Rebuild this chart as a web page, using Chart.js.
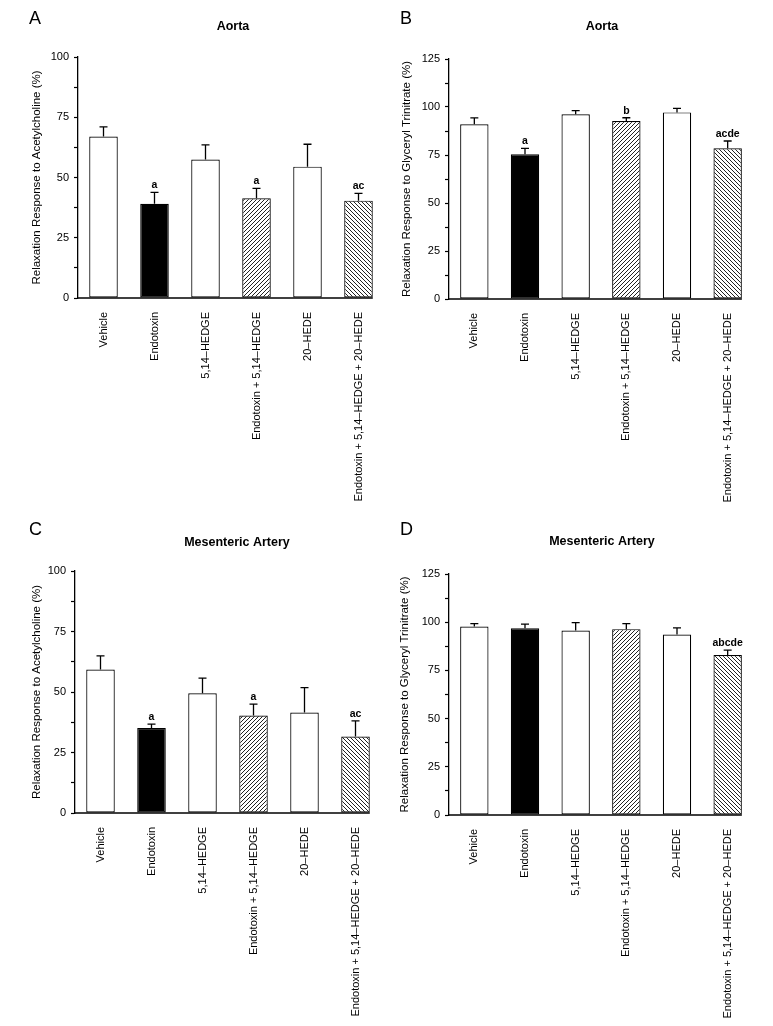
<!DOCTYPE html>
<html>
<head>
<meta charset="utf-8">
<script src="https://cdn.jsdelivr.net/npm/chart.js@4.4.1/dist/chart.umd.min.js"></script>
<style>
  body { margin: 0; background: #fff; }
  canvas { position: absolute; }
</style>
</head>
<body>
<canvas id="chartA" width="390" height="515" style="left:0;top:0"></canvas>
<canvas id="chartB" width="383" height="515" style="left:390px;top:0"></canvas>
<canvas id="chartC" width="390" height="511" style="left:0;top:515px"></canvas>
<canvas id="chartD" width="383" height="511" style="left:390px;top:515px"></canvas>
<script>
// groups, same order in all four panels
const categories = ['Vehicle', 'Endotoxin', '5,14–HEDGE', 'Endotoxin + 5,14–HEDGE', '20–HEDE', 'Endotoxin + 5,14–HEDGE + 20–HEDE']

// A: aorta, acetylcholine
const aortaAch = [67, 39.1, 57.5, 41.4, 54.5, 40.4]
const aortaAchErr = [4, 4.7, 6, 4.1, 9.3, 3]
const aortaAchMarks = ['', 'a', '', 'a', '', 'ac']

// B: aorta, glyceryl trinitrate
const aortaGtn = [91, 75.4, 96.2, 92.7, 97.2, 78.5]
const aortaGtnErr = [3.3, 3.1, 1.9, 1.7, 2.1, 3.8]
const aortaGtnMarks = ['', 'a', '', 'b', '', 'acde']

// C: mesenteric artery, acetylcholine
const mesAch = [59.3, 35.1, 49.5, 40.3, 41.5, 31.6]
const mesAchErr = [5.6, 1.6, 6.2, 4.7, 10.3, 6.5]
const mesAchMarks = ['', 'a', '', 'a', '', 'ac']

// D: mesenteric artery, glyceryl trinitrate
const mesGtn = [97.8, 96.9, 95.7, 96.4, 93.6, 83]
const mesGtnErr = [1.5, 2.1, 4.1, 2.9, 3.5, 2.5]
const mesGtnMarks = ['', '', '', '', '', 'abcde']

const ticksAch = [0, 25, 50, 75, 100]
const ticksGtn = [0, 25, 50, 75, 100, 125]

const FONT = '"Liberation Sans", Arial, Helvetica, sans-serif'
Chart.defaults.font.family = FONT
Chart.defaults.color = '#000'

function hatch(dir) {
  const s = 4
  const c = document.createElement('canvas')
  c.width = s
  c.height = s
  const g = c.getContext('2d')
  g.fillStyle = '#fff'
  g.fillRect(0, 0, s, s)
  g.strokeStyle = '#222'
  g.lineWidth = 1
  g.beginPath()
  if (dir === 'up') {
    g.moveTo(-1, s + 1); g.lineTo(s + 1, -1)
    g.moveTo(-1, 1); g.lineTo(1, -1)
    g.moveTo(s - 1, s + 1); g.lineTo(s + 1, s - 1)
  } else {
    g.moveTo(-1, -1); g.lineTo(s + 1, s + 1)
    g.moveTo(s - 1, -1); g.lineTo(s + 1, 1)
    g.moveTo(-1, s - 1); g.lineTo(1, s + 1)
  }
  g.stroke()
  return g.createPattern(c, 'repeat')
}

const fills = ['#fff', '#000', '#fff', hatch('up'), '#fff', hatch('down')]

const extras = {
  id: 'extras',
  afterDatasetsDraw(chart, args, opts) {
    const ctx = chart.ctx
    const y = chart.scales.y
    const bars = chart.getDatasetMeta(0).data
    const values = chart.data.datasets[0].data
    ctx.save()
    ctx.strokeStyle = '#000'
    ctx.lineWidth = 1.3
    ctx.fillStyle = '#000'
    ctx.font = 'bold 10.5px ' + FONT
    ctx.textAlign = 'center'
    ctx.textBaseline = 'alphabetic'
    for (let i = 0; i < bars.length; i++) {
      const x = bars[i].x
      const top = y.getPixelForValue(values[i] + opts.errors[i])
      ctx.beginPath()
      ctx.moveTo(x, y.getPixelForValue(values[i]))
      ctx.lineTo(x, top)
      ctx.moveTo(x - 4, top)
      ctx.lineTo(x + 4, top)
      ctx.stroke()
      if (opts.marks[i]) ctx.fillText(opts.marks[i], x, top - 4)
    }
    // baseline stops at the last bar
    const last = bars[bars.length - 1]
    const y0 = y.getPixelForValue(0)
    ctx.beginPath()
    ctx.moveTo(chart.chartArea.left, y0)
    ctx.lineTo(last.x + last.width / 2, y0)
    ctx.stroke()

    ctx.textBaseline = 'middle'
    ctx.font = '18px ' + FONT
    ctx.textAlign = 'left'
    ctx.fillText(opts.letter, opts.letterX, opts.letterY)
    ctx.font = 'bold 12.5px ' + FONT
    ctx.textAlign = 'center'
    ctx.fillText(opts.title, opts.titleX, opts.titleY)
    ctx.restore()
  }
}

function makeChart(id, values, errors, marks, yTicks, yTitle, letter, title, L) {
  const yMax = yTicks[yTicks.length - 1]
  return new Chart(document.getElementById(id), {
    type: 'bar',
    data: {
      labels: categories,
      datasets: [{
        data: values,
        backgroundColor: fills,
        borderColor: '#000',
        borderWidth: 1.2,
        borderSkipped: false,
        barPercentage: 0.56,
        categoryPercentage: 1
      }]
    },
    options: {
      responsive: false,
      animation: false,
      events: [],
      layout: { padding: { left: 0, right: L.right, top: L.top, bottom: 0 } },
      plugins: {
        legend: { display: false },
        tooltip: { enabled: false },
        extras: {
          errors: errors, marks: marks, letter: letter, title: title,
          letterX: L.letterX, letterY: L.letterY, titleX: L.titleX, titleY: L.titleY
        }
      },
      scales: {
        x: {
          grid: { display: false },
          border: { display: false },
          ticks: { minRotation: 90, maxRotation: 90, autoSkip: false, padding: 6, font: { size: 11 } },
          afterFit(scale) { scale.height = scale.chart.height - L.bottom }
        },
        y: {
          min: 0,
          max: yMax,
          grid: { drawOnChartArea: false, tickLength: 4, tickColor: '#000', tickWidth: 1.2 },
          border: { color: '#000', width: 1.3 },
          ticks: {
            stepSize: 12.5,
            padding: 5,
            font: { size: 11 },
            callback: v => yTicks.includes(v) ? v : ''
          },
          title: {
            display: true,
            text: yTitle,
            font: { size: 11.5 },
            padding: { top: L.yTitleX - 6.9, bottom: 0 }
          },
          afterFit(scale) { scale.width = L.left }
        }
      }
    },
    plugins: [extras]
  })
}

const achTitle = 'Relaxation Response to Acetylcholine (%)'
const gtnTitle = 'Relaxation Response to Glyceryl Trinitrate (%)'

makeChart('chartA', aortaAch, aortaAchErr, aortaAchMarks, ticksAch, achTitle, 'A', 'Aorta',
  { left: 78, right: 6, top: 57, bottom: 298, yTitleX: 37, letterX: 29, letterY: 19, titleX: 233, titleY: 27 })
makeChart('chartB', aortaGtn, aortaGtnErr, aortaGtnMarks, ticksGtn, gtnTitle, 'B', 'Aorta',
  { left: 59, right: 20, top: 59, bottom: 299, yTitleX: 17, letterX: 10, letterY: 19, titleX: 212, titleY: 27 })
makeChart('chartC', mesAch, mesAchErr, mesAchMarks, ticksAch, achTitle, 'C', 'Mesenteric Artery',
  { left: 75, right: 9, top: 56, bottom: 298, yTitleX: 37, letterX: 29, letterY: 15, titleX: 237, titleY: 28 })
makeChart('chartD', mesGtn, mesGtnErr, mesGtnMarks, ticksGtn, gtnTitle, 'D', 'Mesenteric Artery',
  { left: 59, right: 20, top: 59, bottom: 300, yTitleX: 15, letterX: 10, letterY: 15, titleX: 212, titleY: 27 })
</script>
</body>
</html>
